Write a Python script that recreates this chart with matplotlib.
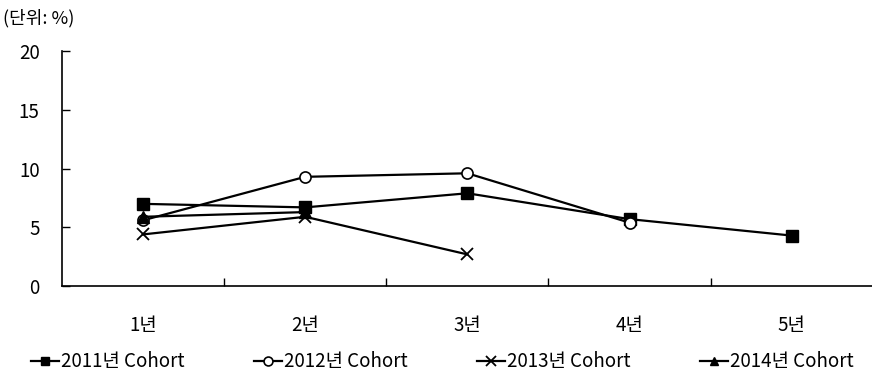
import matplotlib
matplotlib.use('Agg')
import matplotlib.pyplot as plt
import numpy as np

plt.rcParams['font.family'] = ['Noto Sans CJK KR', 'DejaVu Sans']

years = ['1년', '2년', '3년', '4년', '5년']
c2011 = [7.0, 6.7, 7.9, 5.7, 4.3]
c2012 = [5.6, 9.3, 9.6, 5.4]
c2013 = [4.4, 5.9, 2.7]
c2014 = [5.9, 6.3]
labels = ['2011년 Cohort', '2012년 Cohort', '2013년 Cohort', '2014년 Cohort']

fig = plt.figure(figsize=(8.72, 3.78), dpi=100)
ax = fig.add_axes([0.071, 0.243, 0.93, 0.622])

x = np.arange(len(years))
ax.plot(x[:len(c2011)], c2011, color='black', lw=1.6, marker='s', ms=8, mfc='black', label=labels[0])
ax.plot(x[:len(c2012)], c2012, color='black', lw=1.6, marker='o', ms=8, mfc='white', mew=1.2, label=labels[1])
ax.plot(x[:len(c2013)], c2013, color='black', lw=1.6, marker='x', ms=9, mew=1.3, label=labels[2])
ax.plot(x[:len(c2014)], c2014, color='black', lw=1.6, marker='^', ms=8, mfc='black', label=labels[3])

ax.set_xlim(-0.5, 4.5)
ax.set_ylim(0, 20)
ax.set_yticks([0, 5, 10, 15, 20])
ax.set_xticks(x)
ax.set_xticklabels(years)
ax.set_xticks(np.arange(0.5, 4.0, 1.0), minor=True)
ax.tick_params(axis='x', which='major', length=0, pad=21, labelsize=13.5)
ax.tick_params(axis='x', which='minor', direction='in', length=6, width=1)
ax.tick_params(axis='y', direction='in', length=6, width=1, pad=16, labelsize=13.5)
for s in ['top', 'right']:
    ax.spines[s].set_visible(False)
ax.spines['left'].set_linewidth(1.2)
ax.spines['bottom'].set_linewidth(1.2)

fig.text(0.003, 0.952, '(단위: %)', fontsize=13, ha='left', va='center')

ax.legend(loc='upper center', bbox_to_anchor=(0.469, -0.205), ncol=4, frameon=False,
          fontsize=13.5, handlelength=1.5, handletextpad=0.1, columnspacing=3.7,
          markerscale=0.8)

fig.savefig('out.png', dpi=100)
